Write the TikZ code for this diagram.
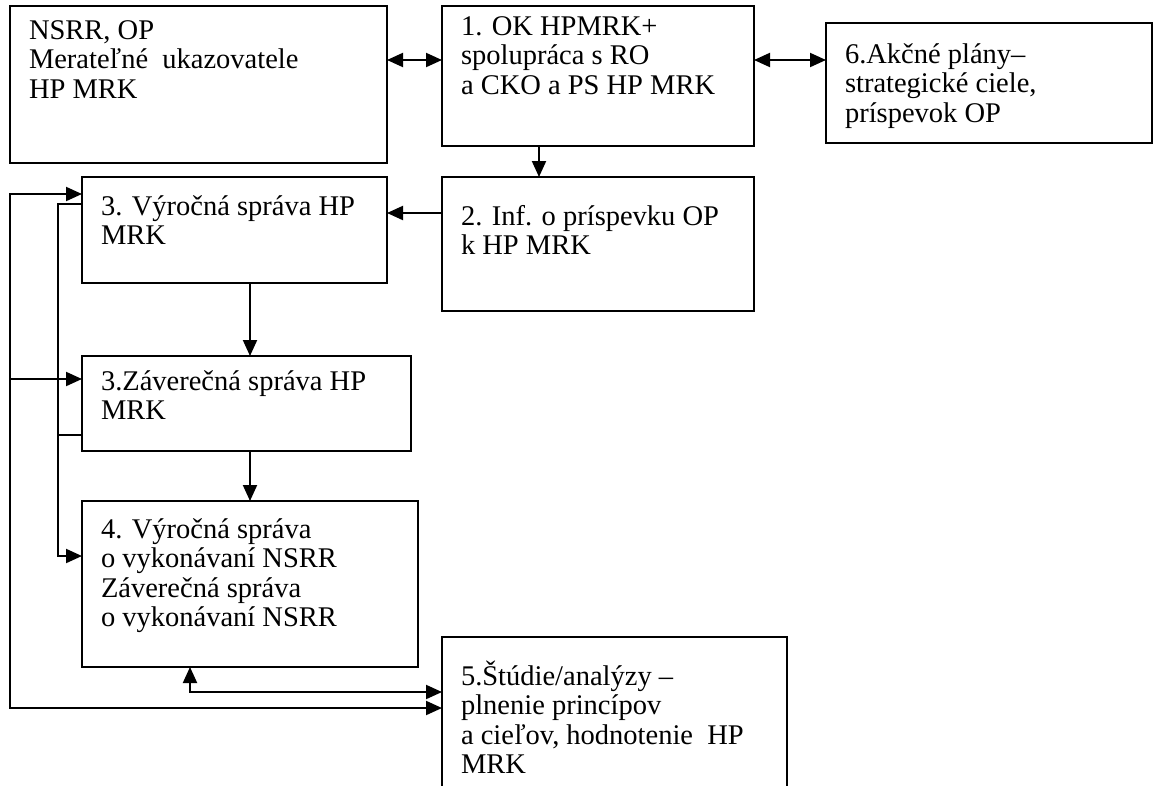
\documentclass[tikz,border=0pt]{standalone}
\usepackage{fontspec}
\setmainfont{Liberation Serif}
\usetikzlibrary{arrows.meta}
% text of a box: width, height, first baseline from the top, lines
\newcommand{\obsah}[4]{\parbox[c][#2][t]{#1}{\raggedright\leftskip=19pt\rule{0pt}{#3}#4}}
\tikzset{
  blok/.style={draw, line width=1.8pt, inner sep=0pt, outer sep=0pt, anchor=north west,
    font=\fontsize{28.5}{29.5}\selectfont},
}
\begin{document}
\begin{tikzpicture}[x=1pt,y=-1pt,line width=2pt,>={Triangle[length=16pt,width=14pt]}]
\useasboundingbox (0,0) rectangle (1154,785);
\node[blok] (nsrr) at (10,6) {\obsah{377pt}{157pt}{33pt}{NSRR, OP\\Merateľné~ ukazovatele\\HP MRK}};
\node[blok] (b1) at (442,6) {\obsah{312pt}{140pt}{29pt}{1. OK HPMRK+\\spolupráca s RO\\a CKO a PS HP MRK}};
\node[blok] (b6) at (826,23) {\obsah{326pt}{120pt}{40pt}{6.Akčné plány–\\strategické ciele,\\príspevok OP}};
\node[blok] (b3) at (82,177) {\obsah{305pt}{106pt}{38pt}{3. Výročná správa HP\\MRK}};
\node[blok] (b2) at (442,177) {\obsah{312pt}{134pt}{48pt}{2. Inf. o príspevku OP\\k HP MRK}};
\node[blok] (b3z) at (82,356) {\obsah{329pt}{95pt}{34pt}{3.Záverečná správa HP\\MRK}};
\node[blok] (b4) at (82,501) {\obsah{336pt}{166pt}{37pt}{4. Výročná správa\\o vykonávaní NSRR\\Záverečná správa\\o vykonávaní NSRR}};
\node[blok] (b5) at (442,637) {\obsah{345pt}{160pt}{48pt}{5.Štúdie/analýzy –\\plnenie princípov\\a cieľov, hodnotenie~ HP\\MRK}};

% top row
\coordinate (a1) at ([yshift=-54pt]b1.north west);
\draw[<->] (a1 -| nsrr.east) -- (a1);
\coordinate (a6) at ([yshift=-54pt]b1.north east);
\draw[<->] (a6) -- (a6 -| b6.west);
\draw[->] ([xshift=-59pt]b1.south) -- ([xshift=-59pt]b2.north);
\coordinate (a2) at ([yshift=-36pt]b2.north west);
\draw[->] (a2) -- (a2 -| b3.east);

% middle column
\draw[->] ([xshift=168pt]b3.south west) -- ([xshift=168pt]b3z.north west);
\draw[->] ([xshift=168pt]b3z.south west) -- ([xshift=168pt]b4.north west);

% outer loop
\coordinate (rail) at (10,0);
\coordinate (lt) at ([yshift=-17pt]b3.north west);
\coordinate (lz) at ([yshift=-23pt]b3z.north west);
\coordinate (l5) at ([yshift=-71pt]b5.north west);
\draw[<->] (l5) -- (l5 -| rail) -- (lt -| rail) -- (lt);
\draw[->] (lz -| rail) -- (lz);

% inner loop
\coordinate (rail2) at (58,0);
\coordinate (i3) at ([yshift=-27pt]b3.north west);
\coordinate (iz) at ([yshift=-79pt]b3z.north west);
\coordinate (i4) at ([yshift=-55pt]b4.north west);
\draw[->] (i3) -- (i3 -| rail2) -- (i4 -| rail2) -- (i4);
\draw (iz) -- (iz -| rail2);

% bottom
\coordinate (d4) at ([xshift=108pt]b4.south west);
\coordinate (d5) at ([yshift=-55pt]b5.north west);
\draw[<->] (d4) |- (d5);
\end{tikzpicture}
\end{document}
